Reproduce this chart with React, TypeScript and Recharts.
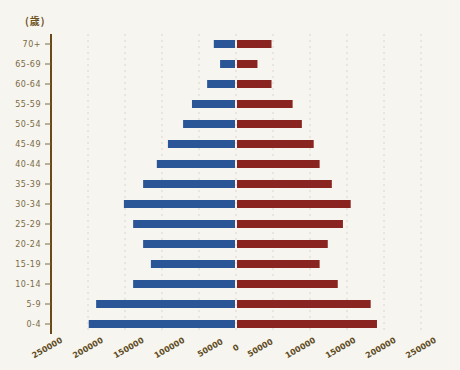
import { BarChart, Bar, XAxis, YAxis, CartesianGrid } from 'recharts';

/* ───────── Data ───────── */

const AGE_GROUPS = ['70+', '65-69', '60-64', '55-59', '50-54', '45-49', '40-44', '35-39', '30-34', '25-29', '20-24', '15-19', '10-14', '5-9', '0-4'];
const MALE = [30000, 21500, 39000, 59500, 71500, 92000, 107000, 125500, 151500, 139000, 125500, 115000, 139000, 189000, 199000];
const FEMALE = [48000, 29000, 48000, 76500, 89000, 105000, 113000, 129500, 155000, 144500, 124000, 113000, 137500, 182000, 190500];
const X_TICKS = [-250000, -200000, -150000, -100000, -50000, 0, 50000, 100000, 150000, 200000, 250000];

const BLUE = '#2a5596';
const RED = '#8a2420';
const BG = '#f7f5ef';
const AXIS_BROWN = '#6b4a18';

const data = AGE_GROUPS.map((age, i) => ({ age, male: -MALE[i], female: FEMALE[i] }));

/* bars keep a 1px gap on the zero side */
function SideBar(props: any, side: 'left' | 'right') {
  const { x, y, width, height, fill } = props;
  const x0 = Math.min(x, x + width);
  const w = Math.abs(width);
  if (!w) return <g />;
  return side === 'left'
    ? <rect x={x0} y={y} width={Math.max(0, w - 1)} height={height} fill={fill} />
    : <rect x={x0 + 1} y={y} width={Math.max(0, w - 1)} height={height} fill={fill} />;
}

function XTick({ x, y, payload }: any) {
  const v = payload.value as number;
  const a = Math.abs(v);
  const dx = v < 0 ? 15 - 3.75 * (a / 50000) : v > 0 ? -16 + 3.2 * (a / 50000) : 0;
  const cx = x + dx;
  const cy = y + 6;
  return (
    <text x={cx} y={cy} textAnchor="middle" dominantBaseline="middle"
      transform={`rotate(-30, ${cx}, ${cy})`}
      fontFamily="DejaVu Sans" fontSize={8} fontWeight={700} fill="#5e4c1f" letterSpacing={0}>
      {String(a)}
    </text>
  );
}

export default function App() {
  return (
    <div style={{ position: 'absolute', left: 0, top: 0, width: 460, height: 370, background: BG }}>
      <div style={{
        position: 'absolute', left: 25, top: 14, fontFamily: '"Noto Sans CJK TC", sans-serif',
        fontSize: 10, fontWeight: 700, color: '#6b5020', letterSpacing: 1, lineHeight: '14px',
      }}>
        (歲)
      </div>
      <BarChart
        width={460}
        height={370}
        data={data}
        layout="vertical"
        stackOffset="sign"
        barSize={8}
        margin={{ top: 34, right: 39, left: 0, bottom: 0 }}
      >
        <CartesianGrid horizontal={false} strokeDasharray="2 4" stroke="#d8d6ce" />
        <XAxis
          type="number"
          domain={[-250000, 250000]}
          ticks={X_TICKS}
          axisLine={false}
          tickLine={false}
          height={36}
          interval={0}
          tick={<XTick />}
        />
        <YAxis
          type="category"
          dataKey="age"
          width={51}
          axisLine={{ stroke: AXIS_BROWN, strokeWidth: 2 }}
          tickLine={{ stroke: '#7a6a45' }}
          tickSize={6}
          tickMargin={4}
          tick={{ fontFamily: 'DejaVu Sans', fontSize: 8, fill: '#7a6a45', letterSpacing: 0.5 }}
          interval={0}
        />
        <Bar dataKey="male" stackId="p" fill={BLUE} isAnimationActive={false}
          shape={(p: any) => SideBar(p, 'left')} />
        <Bar dataKey="female" stackId="p" fill={RED} isAnimationActive={false}
          shape={(p: any) => SideBar(p, 'right')} />
      </BarChart>
    </div>
  );
}
